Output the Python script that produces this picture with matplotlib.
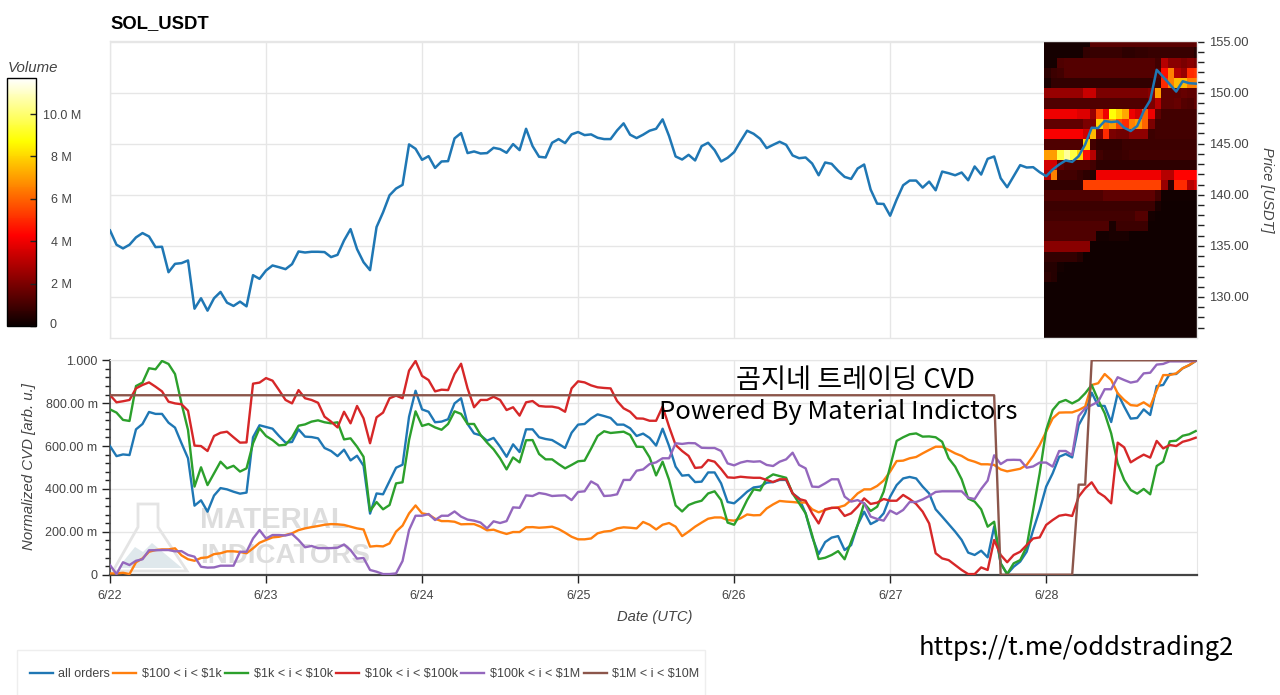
import numpy as np
import matplotlib
matplotlib.use("Agg")
import matplotlib.pyplot as plt
from matplotlib.patches import Polygon, Rectangle
from matplotlib.ticker import MultipleLocator

W, H = 1280, 695
plt.rcParams['font.family'] = ['Liberation Sans', 'DejaVu Sans']

TITLE = "SOL_USDT"
DAY_LABELS = ["6/22", "6/23", "6/24", "6/25", "6/26", "6/27", "6/28"]
DAY_HOURS = [0, 24, 48, 72, 96, 120, 144]
PRICE_TICKS = [130, 135, 140, 145, 150, 155]
CVD_TICKS = [0, 0.2, 0.4, 0.6, 0.8, 1.0]
CVD_LABELS = ["0", "200.00 m", "400.00 m", "600.00 m", "800.00 m", "1.000"]
SERIES_NAMES = ["all orders", r"\$100 < i < \$1k", r"\$1k < i < \$10k", r"\$10k < i < \$100k",
                r"\$100k < i < \$1M", r"\$1M < i < \$10M"]
SERIES_COLORS = ["#1f77b4", "#ff7f0e", "#2ca02c", "#d62728", "#9467bd", "#8c564b"]

price = [136.51,135.11,134.75,135.11,135.83,136.25,135.92,134.88,134.91,132.42,133.24,133.31,133.57,128.85,129.87,128.66,129.87,130.49,129.44,129.12,129.54,129.08,132.13,131.77,
132.59,133.08,132.91,132.72,133.21,134.45,134.35,134.42,134.42,134.39,133.90,134.12,135.53,136.64,134.68,133.40,132.62,136.84,138.28,139.95,140.61,140.97,144.93,144.50,
143.42,143.78,142.63,143.26,143.29,145.52,146.04,144.08,144.24,144.04,144.08,144.60,144.47,144.11,144.96,144.37,146.46,144.76,143.72,143.65,145.09,145.45,145.06,145.91,
146.14,145.84,145.91,145.58,145.45,145.45,146.30,146.99,145.88,145.55,145.88,146.27,146.46,147.38,145.74,143.75,143.45,143.91,143.36,144.76,145.09,144.37,143.26,143.62,
144.17,145.25,146.27,145.97,145.48,144.57,144.89,145.19,144.89,143.85,143.58,143.65,143.06,141.91,143.16,143.03,142.34,141.75,141.55,142.57,142.96,140.51,139.13,139.10,
137.95,139.53,140.93,141.39,141.39,140.70,141.29,140.44,142.27,142.11,141.91,142.18,141.42,142.77,141.98,143.52,143.75,141.62,140.74,141.82,142.90,142.67,142.70,142.21,
141.82,142.47,142.96,143.36,143.22,143.78,144.93,146.56,146.53,147.22,147.12,147.18,146.56,146.24,146.73,148.20,149.25,152.23,151.54,150.82,150.10,151.11,150.92,150.88]

cvd_all = [600,553,561,558,678,703,759,750,750,709,686,613,543,322,347,294,369,404,398,387,378,383,641,697,
689,681,647,616,619,678,644,642,636,591,577,553,583,533,555,508,285,379,375,437,499,513,737,858,
771,760,711,714,725,799,823,703,659,650,625,638,597,550,608,572,678,678,641,633,628,610,591,662,
700,703,729,748,740,731,700,700,683,647,658,638,602,681,600,504,462,465,432,434,477,477,426,339,
333,359,387,407,411,429,432,442,442,379,356,286,177,96,152,173,180,115,138,232,294,236,252,286,
364,418,449,456,449,411,379,305,271,236,201,162,103,92,112,81,224,53,3,37,61,107,208,302,
411,473,550,563,547,698,753,849,788,787,712,846,784,728,731,771,745,880,885,936,936,963,977,997]

cvd_100_1k = [6,6,9,3,58,76,107,115,118,118,123,90,72,65,78,81,96,100,109,109,106,100,123,149,
162,174,177,185,193,208,216,222,227,233,236,235,232,224,216,211,131,134,132,146,201,229,286,323,
286,281,261,250,250,247,235,236,236,224,207,210,199,190,199,199,221,222,219,221,224,213,196,177,
165,165,169,193,201,204,216,221,219,216,246,233,211,233,241,224,180,201,224,243,261,267,267,255,
252,263,281,277,278,309,328,344,341,339,336,337,305,291,302,311,314,323,348,379,398,398,414,439,
481,530,532,543,549,566,582,597,597,582,566,554,536,527,515,515,512,491,482,488,494,512,554,605,
667,729,756,757,757,768,784,885,893,936,908,846,815,791,788,804,784,861,931,931,939,963,978,997]

cvd_1k_10k = [771,756,722,717,880,896,963,958,997,983,936,799,675,411,501,418,473,527,496,508,481,496,613,683,
647,628,603,606,641,695,701,714,720,711,706,711,631,636,597,550,297,339,305,325,426,431,628,762,
694,703,687,676,703,762,750,703,703,652,616,585,543,491,547,524,627,628,563,538,538,516,496,512,
529,532,588,647,669,661,664,667,652,597,596,547,463,527,442,323,295,325,337,345,379,389,348,243,
233,286,348,398,393,449,468,460,452,379,333,286,185,73,79,92,110,72,154,232,333,297,317,387,
504,624,641,655,659,644,645,641,620,543,504,445,355,341,305,224,247,53,3,53,68,131,302,473,
675,768,804,815,799,815,846,885,815,753,659,519,442,395,378,400,375,507,527,622,625,648,655,670]

cvd_10k_100k = [838,804,809,815,869,885,897,877,855,807,799,795,765,602,600,577,647,662,667,641,616,617,891,896,
917,905,861,815,799,861,823,815,802,737,714,687,760,706,787,729,613,734,756,823,835,823,952,997,
927,908,855,863,861,936,984,869,781,815,815,830,815,768,781,742,804,810,787,784,784,778,760,869,
902,897,883,874,871,869,810,776,760,729,728,718,718,784,690,605,577,554,498,501,535,527,493,454,
452,457,454,452,452,442,432,445,445,379,353,345,286,239,305,312,312,274,286,317,356,330,336,353,
345,345,372,353,330,294,239,100,76,68,45,22,3,3,34,22,162,92,58,92,107,138,169,174,
232,255,275,280,274,364,403,431,384,364,333,616,594,524,543,560,546,624,589,605,600,620,628,639]

cvd_100k_1m = [45,3,58,45,65,72,114,114,115,115,109,110,92,84,37,33,34,42,42,42,107,107,169,208,
169,185,185,183,190,162,128,134,124,124,124,126,141,115,75,78,22,14,3,3,6,64,208,275,
275,283,255,275,275,295,271,257,252,243,216,249,241,250,314,312,370,367,381,376,367,369,370,348,
386,389,435,418,367,369,375,442,442,485,491,516,524,543,543,613,610,614,613,592,591,591,577,519,
510,523,530,527,529,512,507,527,538,569,512,496,411,409,426,445,445,364,341,348,333,271,260,252,
299,283,302,339,339,351,367,386,389,389,389,389,359,353,400,439,557,516,535,536,535,499,505,523,
523,504,577,577,558,740,776,791,807,865,865,921,908,896,902,939,942,980,983,995,995,995,995,997]

cvd_1m_10m = [837,837,837,837,837,837,837,837,837,837,837,837,837,837,837,837,837,837,837,837,837,837,837,837,
837,837,837,837,837,837,837,837,837,837,837,837,837,837,837,837,837,837,837,837,837,837,837,837,
837,837,837,837,837,837,837,837,837,837,837,837,837,837,837,837,837,837,837,837,837,837,837,837,
837,837,837,837,837,837,837,837,837,837,837,837,837,837,837,837,837,837,837,837,837,837,837,837,
837,837,837,837,837,837,837,837,837,837,837,837,837,837,837,837,837,837,837,837,837,837,837,837,
837,837,837,837,837,837,837,837,837,837,837,837,837,837,837,837,837,0,0,0,0,0,0,0,
0,0,0,0,0,420,420,1000,1000,1000,1000,1000,1000,1000,1000,1000,1000,1000,1000,1000,1000,1000,1000,1000]

# Volume heatmap in millions, one row per 1 USD price bin (top row first), one column per hour
heat_top_edge = 155.43
heat_volume = [
[.2,.2,.2,.2,.2,.2,.2,1.4,1.4,1.4,1.4,1.4,1.4,1.4,1.4,1.4,1.4,1.4,1.4,1.4,1.4,1.4,1.4,1.5],
[.2,.2,.2,.2,.2,.2,.7,.8,.8,.8,.8,.8,.6,.6,.7,.7,.8,.8,.8,.8,.8,.8,.8,.5],
[.2,.2,1.2,1.3,1.3,1.3,1.3,1.3,1.3,1.3,1.3,1.3,1.3,1.3,1.3,1.3,1.3,1.0,3.0,2.2,2.2,2.0,2.2,2.0],
[.6,.9,1.0,1.3,1.3,1.3,1.3,1.3,1.3,1.3,1.3,1.3,1.3,1.3,1.3,1.3,1.3,1.2,4.5,6.5,3.0,2.5,5.0,5.2],
[.3,.7,.7,.7,.7,.7,.7,.7,.7,.7,.7,.7,.7,.7,.7,.7,.7,1.0,5.0,6.5,7.5,7.5,6.5,6.5],
[2.5,2.5,2.5,2.5,2.5,2.5,3.3,3.3,2.0,2.0,2.0,2.0,2.0,2.0,2.0,2.0,2.2,7.0,1.5,1.5,1.5,1.6,1.5,1.5],
[1.2,1.2,1.2,1.2,1.2,1.2,1.2,1.2,1.2,1.2,1.2,1.2,1.2,1.2,1.2,1.2,2.0,3.0,1.5,1.5,1.6,1.3,1.2,1.5],
[4.0,4.0,4.0,4.0,4.0,3.7,3.7,2.5,5.5,4.0,8.8,8.0,7.2,4.0,3.5,6.0,4.0,1.5,1.0,1.0,1.0,1.0,1.0,1.0],
[1.5,1.5,1.5,1.5,1.5,1.5,2.0,2.0,8.0,6.5,7.0,5.5,5.0,6.5,7.0,6.0,2.0,1.0,1.0,1.0,1.0,1.0,1.0,1.0],
[4.2,4.2,4.2,4.2,4.2,4.2,3.5,7.5,2.0,5.0,2.0,1.8,1.8,2.3,2.3,2.3,.9,1.0,1.0,1.0,1.0,1.0,1.0,1.0],
[1.2,1.2,1.2,1.2,1.2,1.2,8.0,1.0,.7,.7,.7,.7,.9,.9,.9,.9,.9,.9,.9,.9,.9,.9,.9,.9],
[7.0,7.0,9.5,10.5,9.5,8.0,4.5,3.0,1.0,.8,.8,.8,.9,1.0,1.0,1.0,1.0,1.0,1.0,1.0,1.0,1.0,1.0,1.0],
[3.5,3.5,1.5,1.2,1.2,1.2,1.2,1.0,.6,.6,.6,.6,.6,.6,.6,.6,.6,.6,.6,.6,.6,.6,.6,.6],
[3.0,6.5,1.0,1.0,1.0,.8,.6,.5,4.0,4.0,4.0,4.0,4.0,4.0,4.0,4.0,4.0,4.0,3.0,3.0,4.3,4.3,4.3,4.3],
[.7,.7,.7,.7,.7,.7,5.4,5.4,5.4,5.4,5.4,5.4,5.4,5.4,5.4,5.4,5.4,5.4,2.5,.6,5.0,5.0,3.0,3.5],
[1.2,1.2,1.2,1.2,1.2,1.2,1.2,1.2,1.2,1.5,1.5,1.5,1.5,1.5,1.5,1.5,1.5,1.0,.15,.15,.15,.15,.15,.15],
[.9,.9,.9,.9,.9,.9,.9,.9,.9,.9,.9,.9,.9,.9,.9,.9,.9,.3,.1,.1,.1,.1,.1,.1],
[1.0,1.0,1.0,1.0,1.0,1.0,1.0,1.0,1.0,1.0,1.0,1.0,1.0,1.0,1.3,1.3,.2,.1,.1,.1,.1,.1,.1,.1],
[1.2,1.2,1.2,1.2,1.2,1.2,1.2,1.2,1.2,1.2,.3,.9,.9,.9,.9,.9,.1,.1,.1,.1,.1,.1,.1,.1],
[1.2,1.2,1.2,1.2,1.2,1.2,1.2,1.2,.2,.2,.3,.3,.3,.1,.1,.1,.1,.1,.1,.1,.1,.1,.1,.1],
[2.2,2.2,2.2,2.2,2.2,2.2,2.2,.1,.1,.1,.1,.1,.1,.1,.1,.1,.1,.1,.1,.1,.1,.1,.1,.1],
[.7,.7,.7,.7,.7,.5,.1,.1,.1,.1,.1,.1,.1,.1,.1,.1,.1,.1,.1,.1,.1,.1,.1,.1],
[.5,.5,.2,.1,.1,.1,.1,.1,.1,.1,.1,.1,.1,.1,.1,.1,.1,.1,.1,.1,.1,.1,.1,.1],
[.6,.5,.1,.1,.1,.1,.1,.1,.1,.1,.1,.1,.1,.1,.1,.1,.1,.1,.1,.1,.1,.1,.1,.1],
[.1,.1,.1,.1,.1,.1,.1,.1,.1,.1,.1,.1,.1,.1,.1,.1,.1,.1,.1,.1,.1,.1,.1,.1],
[.1,.1,.1,.1,.1,.1,.1,.1,.1,.1,.1,.1,.1,.1,.1,.1,.1,.1,.1,.1,.1,.1,.1,.1],
[.1,.1,.1,.1,.1,.1,.1,.1,.1,.1,.1,.1,.1,.1,.1,.1,.1,.1,.1,.1,.1,.1,.1,.1],
[.1,.1,.1,.1,.1,.1,.1,.1,.1,.1,.1,.1,.1,.1,.1,.1,.1,.1,.1,.1,.1,.1,.1,.1],
[.1,.1,.1,.1,.1,.1,.1,.1,.1,.1,.1,.1,.1,.1,.1,.1,.1,.1,.1,.1,.1,.1,.1,.1],
[.1,.1,.1,.1,.1,.1,.1,.1,.1,.1,.1,.1,.1,.1,.1,.1,.1,.1,.1,.1,.1,.1,.1,.1],
]
VOLUME_TICKS = [0, 2, 4, 6, 8, 10]
VOLUME_LABELS = ["", "2 M", "4 M", "6 M", "8 M", "10.0 M"]

GRID = "#e6e6e6"
TXT = "#444444"
DARK = "#444444"


def px(x, y):
    return x / W, 1 - y / H


def axes_px(x0, y0, x1, y1):
    return [x0 / W, 1 - y1 / H, (x1 - x0) / W, (y1 - y0) / H]


fig = plt.figure(figsize=(W / 100, H / 100), dpi=100, facecolor="white")
hours = np.arange(len(price))
XMAX = 167.2

# --- price panel
ax1 = fig.add_axes(axes_px(110, 40.5, 1197, 337.5))
ax1.set_xlim(0, XMAX)
ax1.set_ylim(126.03, 155.1)
ax1.set_axisbelow(True)
ax1.grid(True, color=GRID, lw=1)
heat = np.array(heat_volume)
x_edges = 143.7 + np.arange(heat.shape[1] + 1)
y_edges = heat_top_edge - np.arange(heat.shape[0] + 1)
mesh = ax1.pcolormesh(x_edges, y_edges, heat, cmap="hot", vmin=0, vmax=11.7, zorder=2, linewidth=0, rasterized=True)
ax1.plot(hours, price, color=SERIES_COLORS[0], lw=1.8, zorder=3, solid_joinstyle="round")
ax1.yaxis.tick_right()
ax1.set_yticks(PRICE_TICKS)
ax1.set_yticklabels([f"{p:.2f}" for p in PRICE_TICKS], fontsize=9.4, color=TXT)
ax1.yaxis.set_minor_locator(MultipleLocator(1))
ax1.tick_params(axis="y", which="major", length=5, width=1, color="#222222", pad=4)
ax1.tick_params(axis="y", which="minor", length=5, width=1, color="#222222")
ax1.set_xticks(DAY_HOURS)
ax1.tick_params(axis="x", length=0, labelbottom=False)
for s in ax1.spines.values():
    s.set_color(GRID)
    s.set_linewidth(1)

# --- CVD panel
ax2 = fig.add_axes(axes_px(110, 360.3, 1197, 574.7))
ax2.set_xlim(0, XMAX)
ax2.set_ylim(0, 1)
ax2.set_axisbelow(True)
ax2.grid(True, color=GRID, lw=1)

# watermark
flask = [px(138, 504), px(158, 504), px(158, 527), px(187, 571), px(113, 571), px(138, 527)]
ax2.add_patch(Polygon(flask, closed=True, transform=fig.transFigure, fill=False, edgecolor="#e4e4e4", lw=2, zorder=1, clip_on=False))
hill = [px(118, 568), px(135, 547), px(143, 552), px(152, 543), px(182, 568)]
ax2.add_patch(Polygon(hill, closed=True, transform=fig.transFigure, facecolor="#dfe8ec", edgecolor="none", zorder=1, clip_on=False))
wx, wy = px(200, 520)
ax2.text(wx, wy, "MATERIAL", transform=fig.transFigure, fontsize=21, fontweight="bold", color="#dddddd", va="center", ha="left", zorder=1)
wx, wy = px(200, 556)
ax2.text(wx, wy, "INDICATORS", transform=fig.transFigure, fontsize=20, fontweight="bold", color="#dddddd", va="center", ha="left", zorder=1)

all_series = [cvd_all, cvd_100_1k, cvd_1k_10k, cvd_10k_100k, cvd_100k_1m, cvd_1m_10m]
handles = []
for vals, name, col in zip(all_series, SERIES_NAMES, SERIES_COLORS):
    line, = ax2.plot(hours, np.array(vals) / 1000.0, color=col, lw=1.7, label=name, zorder=3, solid_joinstyle="round")
    handles.append(line)

ax2.set_yticks(CVD_TICKS)
ax2.set_yticklabels(CVD_LABELS, fontsize=9, color=TXT)
ax2.yaxis.set_minor_locator(MultipleLocator(0.04))
ax2.set_xticks(DAY_HOURS)
ax2.set_xticklabels(DAY_LABELS, fontsize=9, color=TXT)
ax2.tick_params(axis="y", which="major", length=6, width=1, color="#222222", pad=3)
ax2.tick_params(axis="y", which="minor", length=3.5, width=1, color="#222222")
ax2.tick_params(axis="x", which="major", length=6, width=1, color="#222222", pad=5)
ax2.spines["top"].set_color(GRID)
ax2.spines["right"].set_color(GRID)
ax2.spines["left"].set_color(DARK)
ax2.spines["bottom"].set_color(DARK)
ax2.spines["left"].set_linewidth(1.2)
ax2.spines["bottom"].set_linewidth(1.6)

# --- colour bar
cax = fig.add_axes(axes_px(7, 78, 36, 326))
cb = fig.colorbar(mesh, cax=cax)
cb.set_ticks(VOLUME_TICKS)
cb.set_ticklabels(VOLUME_LABELS)
cb.outline.set_edgecolor("black")
cb.outline.set_linewidth(1)
cax.tick_params(axis="y", direction="in", length=4.5, width=1, color="#222222", labelsize=9, labelcolor=TXT, pad=18.5)
for lab in cax.get_yticklabels():
    lab.set_ha("center")
zx, zy = px(52.6, 325)
fig.text(zx, zy, "0", fontsize=9, color=TXT, ha="center", va="center")
vx, vy = px(8, 68)
fig.text(vx, vy, "Volume", fontsize=10.8, style="italic", color=TXT, ha="left", va="center")

# --- titles and labels
tx, ty = px(110, 24)
fig.text(tx, ty, TITLE, fontsize=13.3, fontweight="bold", color="black", ha="left", va="center")
lx, ly = px(1267, 190)
fig.text(lx, ly, "Price [USDT]", fontsize=10.5, style="italic", color=TXT, rotation=270, ha="center", va="center")
lx, ly = px(29, 467)
fig.text(lx, ly, "Normalized CVD [arb. u.]", fontsize=10.8, style="italic", color=TXT, rotation=90, ha="center", va="center")
lx, ly = px(655, 617)
fig.text(lx, ly, "Date (UTC)", fontsize=10.6, style="italic", color=TXT, ha="center", va="center")

# --- overlay captions
CJK = ["Noto Sans CJK KR", "DejaVu Sans"]
ox, oy = px(856, 380)
fig.text(ox, oy, "곰지네 트레이딩 CVD", fontsize=19.6, family=CJK, color="black", ha="center", va="center", zorder=5)
ox, oy = px(838.5, 412)
fig.text(ox, oy, "Powered By Material Indictors", fontsize=18.4, family=CJK, color="black", ha="center", va="center", zorder=5)
ox, oy = px(1076.5, 648)
fig.text(ox, oy, "https://t.me/oddstrading2", fontsize=18.4, family=CJK, color="black", ha="center", va="center", zorder=5)

# --- legend
bx, by = px(17, 650)
fig.add_artist(Rectangle((bx, by - 60 / H), 688 / W, 60 / H, transform=fig.transFigure,
                         facecolor="white", edgecolor="#eeeeee", lw=1, zorder=1))
lgx, lgy = px(29.5, 674)
leg = fig.legend(handles=handles, loc="center left", bbox_to_anchor=(lgx, lgy), ncol=6, frameon=False,
                 fontsize=9, borderpad=0, borderaxespad=0, handlelength=1.84, handletextpad=0.48,
                 columnspacing=0.24, labelcolor=TXT)
leg.set_zorder(2)

fig.savefig("out.png", dpi=100, facecolor="white")
